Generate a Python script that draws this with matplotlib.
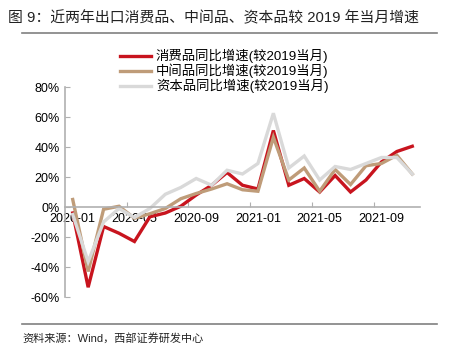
import numpy as np
import matplotlib
matplotlib.use("Agg")
import matplotlib.pyplot as plt
from matplotlib.lines import Line2D

plt.rcParams['font.family'] = ['Liberation Sans', 'Noto Sans CJK SC', 'DejaVu Sans']

# 数据（%）
months = ['2020-01', '2020-02', '2020-03', '2020-04', '2020-05', '2020-06',
          '2020-07', '2020-08', '2020-09', '2020-10', '2020-11', '2020-12',
          '2021-01', '2021-02', '2021-03', '2021-04', '2021-05', '2021-06',
          '2021-07', '2021-08', '2021-09', '2021-10', '2021-11']
consumer = [-4, -53.5, -13, -17.5, -23, -6.5, -4, 0.5, 8, 14.5, 23, 14.5,
            12, 51, 14.5, 19, 10, 21, 10, 18, 30, 37, 40.5]
intermediate = [5, -43, -1.5, 0.5, -7.5, -4.5, -1, 5.5, 9, 12, 15.5, 11.5,
                10.5, 46.5, 18, 26, 10.5, 25, 15, 27.5, 29, 34.5, 22]
capital = [-5, -36.5, -10, -1, -7, -1, 8.5, 13, 19, 14.5, 24.5, 22,
           29, 62.5, 26, 34, 18, 27, 25, 29, 33, 33, 22]
labels = ['消费品同比增速(较2019当月)', '中间品同比增速(较2019当月)', '资本品同比增速(较2019当月)']
colors = ['#C8141E', '#BF9C79', '#D9D9D9']

fig = plt.figure(figsize=(4.49, 3.55), dpi=100)
ax = fig.add_axes([65/449, 1-297/355, 355/449, 210/355])

x = np.arange(len(months))
for s, c in zip([consumer, intermediate, capital], colors):
    ax.plot(x, s, color=c, lw=2.4, solid_joinstyle='miter')

ax.set_xlim(-0.5, len(months) - 0.5)
ax.set_ylim(-60, 80)
ax.set_yticks(np.arange(-60, 81, 20))
ax.set_yticklabels([f'{v}%' for v in range(-60, 81, 20)], fontsize=9)

# x 轴在 0 处，刻度在类别之间
ax.spines['bottom'].set_position(('data', 0))
for sp in ['top', 'right']:
    ax.spines[sp].set_visible(False)
for sp in ['left', 'bottom']:
    ax.spines[sp].set_color('#B0B0B0')
    ax.spines[sp].set_linewidth(1.2)

ax.set_xticks(np.arange(3.5, len(months), 4))
ax.set_xticklabels([])
ax.set_xticks(np.arange(0, len(months), 4), minor=True)
ax.set_xticklabels(months[::4], minor=True, fontsize=9)
ax.tick_params(axis='x', which='major', direction='in', length=3.5, color='#B0B0B0')
ax.tick_params(axis='x', which='minor', length=0, pad=4)
ax.tick_params(axis='y', direction='in', length=3.5, color='#B0B0B0', pad=4)

handles = [Line2D([], [], color=c, lw=2.4) for c in colors]
fig.legend(handles, labels, loc='upper left', bbox_to_anchor=(120/449, 1-49/355),
           frameon=False, fontsize=9.6, handlelength=2.3, handletextpad=0.4,
           labelspacing=0.05, borderpad=0, borderaxespad=0)

fig.text(8/449, 1-18/355, '图 9：近两年出口消费品、中间品、资本品较 2019 年当月增速',
         fontsize=10.7, va='center', ha='left', color='#222222')
fig.add_artist(Line2D([22/449, 437/449], [1-33/355, 1-33/355], color='#808080', lw=1.2))
fig.add_artist(Line2D([22/449, 437/449], [1-324/355, 1-324/355], color='#808080', lw=1.2))
fig.text(22/449, 1-338/355, '资料来源：Wind，西部证券研发中心', fontsize=8,
         va='center', ha='left', color='#222222')

fig.savefig('out.png', dpi=100)
